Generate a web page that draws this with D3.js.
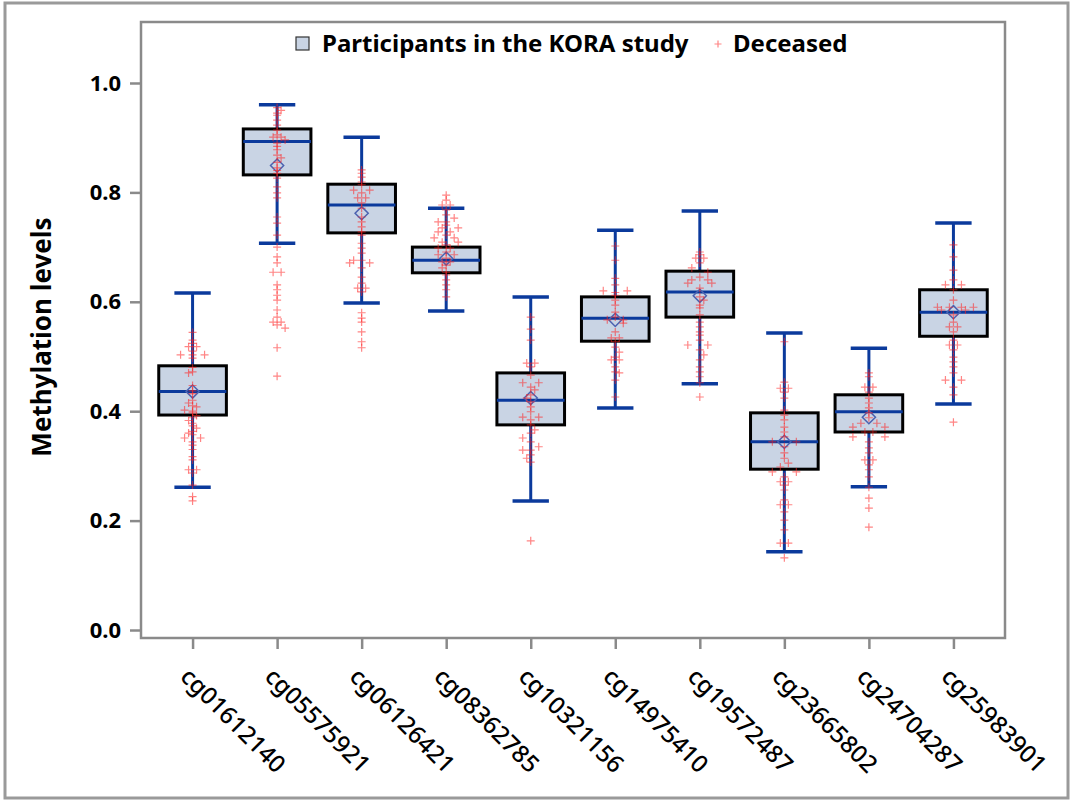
<!DOCTYPE html>
<html>
<head>
<meta charset="utf-8">
<script src="https://cdnjs.cloudflare.com/ajax/libs/d3/7.8.5/d3.min.js"></script>
<style>
  body { margin: 0; background: #fff; }
  svg text { font-family: "Noto Sans", "Open Sans", sans-serif; fill: #000; }
</style>
</head>
<body>
<svg id="chart" width="1073" height="803"></svg>
<script>
///////  Data ///////

var categories = ["cg01612140", "cg05575921", "cg06126421", "cg08362785", "cg10321156",
                  "cg14975410", "cg19572487", "cg23665802", "cg24704287", "cg25983901"];
var whiskerLow  = [0.261, 0.707, 0.598, 0.583, 0.236, 0.406, 0.450, 0.143, 0.262, 0.413];
var q1          = [0.393, 0.832, 0.726, 0.653, 0.375, 0.528, 0.572, 0.294, 0.362, 0.537];
var median      = [0.436, 0.893, 0.777, 0.676, 0.420, 0.570, 0.618, 0.344, 0.399, 0.581];
var q3          = [0.483, 0.916, 0.815, 0.700, 0.470, 0.609, 0.656, 0.397, 0.430, 0.622];
var whiskerHigh = [0.616, 0.960, 0.901, 0.771, 0.609, 0.731, 0.766, 0.543, 0.515, 0.744];
var means       = [0.436, 0.849, 0.762, 0.679, 0.424, 0.567, 0.611, 0.344, 0.389, 0.581];
var yTicks = [0, 0.2, 0.4, 0.6, 0.8, 1.0];

// deceased: [value, jitter step]
var deceased = [
  [[0.544,0],[0.530,0],[0.524,0],[0.518,-1],[0.518,1],[0.510,0],[0.503,-3],[0.503,0],[0.503,3],[0.497,0],[0.480,0],[0.472,0],[0.470,-1],[0.447,0],[0.437,0],[0.432,0],[0.420,0],[0.415,-1],[0.410,0],[0.408,1],[0.402,-2],[0.400,0],[0.397,0],[0.392,1],[0.388,0],[0.383,-1],[0.378,0],[0.373,0],[0.369,1],[0.363,0],[0.360,-1],[0.357,0],[0.351,-2],[0.351,2],[0.344,0],[0.338,0],[0.330,0],[0.317,0],[0.311,0],[0.293,-1],[0.293,1],[0.287,0],[0.265,0],[0.244,0],[0.236,0]],
  [[0.955,0],[0.950,1],[0.945,0],[0.941,0],[0.932,0],[0.923,0],[0.914,0],[0.905,0],[0.901,-1],[0.901,1],[0.896,2],[0.890,0],[0.884,0],[0.878,0],[0.868,0],[0.863,1],[0.855,0],[0.845,0],[0.840,0],[0.835,0],[0.826,0],[0.810,0],[0.799,0],[0.790,0],[0.755,0],[0.744,0],[0.722,0],[0.700,0],[0.682,0],[0.671,0],[0.654,-1],[0.654,1],[0.631,0],[0.622,0],[0.612,0],[0.603,0],[0.585,0],[0.572,0],[0.563,-1],[0.563,1],[0.558,0],[0.552,2],[0.516,0],[0.464,0]],
  [[0.841,0],[0.835,0],[0.828,0],[0.819,0],[0.814,0],[0.804,-2],[0.804,2],[0.799,0],[0.790,-1],[0.790,1],[0.781,0],[0.771,0],[0.755,0],[0.746,0],[0.737,0],[0.728,0],[0.722,0],[0.707,0],[0.698,0],[0.689,0],[0.676,-2],[0.676,0],[0.671,-3],[0.671,2],[0.662,0],[0.645,0],[0.634,0],[0.625,-1],[0.625,1],[0.618,0],[0.580,0],[0.570,0],[0.563,0],[0.545,0],[0.527,0],[0.516,0]],
  [[0.795,0],[0.786,0],[0.777,-1],[0.777,1],[0.768,0],[0.759,0],[0.753,2],[0.746,0],[0.746,-2],[0.740,0],[0.735,-1],[0.735,3],[0.728,-2],[0.728,1],[0.722,0],[0.717,-3],[0.717,2],[0.709,-1],[0.709,3],[0.704,0],[0.698,-2],[0.698,1],[0.691,0],[0.686,-2],[0.686,2],[0.680,0],[0.673,-1],[0.673,1],[0.667,0],[0.662,-1],[0.654,0],[0.649,0],[0.640,0],[0.631,0],[0.622,0],[0.609,0]],
  [[0.572,0],[0.550,0],[0.530,0],[0.488,-1],[0.488,1],[0.481,0],[0.466,0],[0.452,-2],[0.452,2],[0.444,0],[0.439,1],[0.430,0],[0.424,-1],[0.417,0],[0.408,0],[0.399,0],[0.389,-2],[0.389,2],[0.384,0],[0.375,0],[0.366,1],[0.360,0],[0.351,-2],[0.344,0],[0.335,2],[0.329,-2],[0.329,0],[0.320,0],[0.314,-1],[0.307,0],[0.163,0]],
  [[0.702,0],[0.676,0],[0.643,0],[0.631,0],[0.620,-3],[0.620,3],[0.617,0],[0.612,0],[0.603,0],[0.594,0],[0.581,0],[0.572,0],[0.567,-2],[0.567,2],[0.561,2],[0.545,0],[0.534,-1],[0.534,1],[0.527,0],[0.517,0],[0.508,1],[0.499,0],[0.494,-1],[0.494,1],[0.481,0],[0.472,0],[0.470,1],[0.457,0],[0.426,0]],
  [[0.691,0],[0.686,0],[0.680,-1],[0.680,1],[0.671,0],[0.662,-2],[0.654,2],[0.645,0],[0.640,-2],[0.640,2],[0.634,-3],[0.634,3],[0.625,0],[0.609,0],[0.603,1],[0.594,0],[0.589,0],[0.576,0],[0.563,0],[0.554,0],[0.545,0],[0.539,0],[0.530,0],[0.521,-3],[0.521,2],[0.512,0],[0.503,1],[0.494,0],[0.481,0],[0.472,0],[0.463,0],[0.452,0],[0.426,0]],
  [[0.527,0],[0.453,0],[0.442,-1],[0.442,1],[0.435,0],[0.424,0],[0.402,0],[0.393,0],[0.384,0],[0.371,0],[0.362,0],[0.353,0],[0.344,-3],[0.344,3],[0.335,0],[0.324,0],[0.314,0],[0.305,1],[0.298,-1],[0.289,-3],[0.289,3],[0.280,0],[0.271,-1],[0.271,1],[0.265,0],[0.256,0],[0.238,0],[0.229,-1],[0.229,1],[0.216,0],[0.201,0],[0.183,0],[0.159,-1],[0.159,1],[0.132,0]],
  [[0.470,0],[0.463,0],[0.444,-1],[0.444,1],[0.435,0],[0.424,0],[0.415,0],[0.406,0],[0.397,0],[0.388,0],[0.378,-2],[0.378,2],[0.371,-4],[0.371,4],[0.362,-1],[0.362,1],[0.353,-4],[0.353,4],[0.344,0],[0.333,0],[0.324,0],[0.311,-1],[0.311,1],[0.302,0],[0.293,0],[0.280,0],[0.261,0],[0.241,0],[0.223,0],[0.188,0]],
  [[0.704,0],[0.682,0],[0.658,0],[0.640,0],[0.631,-2],[0.631,2],[0.622,0],[0.603,0],[0.590,-4],[0.590,-1],[0.590,2],[0.590,5],[0.585,-3],[0.585,3],[0.576,0],[0.563,0],[0.554,-1],[0.554,1],[0.545,0],[0.530,0],[0.521,-1],[0.521,1],[0.512,0],[0.499,0],[0.490,0],[0.481,0],[0.470,0],[0.457,-2],[0.457,2],[0.444,0],[0.430,0],[0.380,0]]
];

///////  Layout ///////

var svg = d3.select("#chart");
var plotLeft = 141, plotRight = 1005, plotTop = 22, plotBottom = 638;
var blue = "#0b3a9c", gray = "#8a8a8a";
var font = "'Noto Sans', 'Open Sans', sans-serif";

// outer frame
svg.append("rect")
  .attr("x", 5).attr("y", 3).attr("width", 1063).attr("height", 795)
  .attr("fill", "none").attr("stroke", "#9a9a9a").attr("stroke-width", 3);

var x = d3.scalePoint().domain(categories).range([plotLeft, plotRight]).padding(0.61);
var y = d3.scaleLinear().domain([-0.0146, 1.1115]).range([plotBottom, plotTop]);
var step = x.step();
var boxW = step * 0.8, capW = step * 0.43, jit = 4;

// plot frame
svg.append("rect")
  .attr("x", plotLeft).attr("y", plotTop).attr("width", plotRight - plotLeft).attr("height", plotBottom - plotTop)
  .attr("fill", "none").attr("stroke", gray).attr("stroke-width", 2.5);

// axes
var yAxis = d3.axisLeft(y).tickValues(yTicks).tickFormat(d3.format(".1f")).tickSize(11).tickPadding(9);
var gy = svg.append("g").attr("transform", "translate(" + plotLeft + ",0)").call(yAxis);
gy.select(".domain").remove();
gy.selectAll("line").attr("stroke", gray).attr("stroke-width", 2.5);
gy.selectAll("text").attr("font-size", "22px").attr("font-weight", "bold")
  .style("font-family", font);

var xAxis = d3.axisBottom(x).tickSize(11);
var gx = svg.append("g").attr("transform", "translate(0," + plotBottom + ")").call(xAxis);
gx.select(".domain").remove();
gx.selectAll("line").attr("stroke", gray).attr("stroke-width", 2.5);
gx.selectAll("text")
  .attr("x", 0).attr("y", 0).attr("dy", 0)
  .attr("text-anchor", "start")
  .attr("transform", "translate(-14,40) rotate(45)")
  .attr("font-size", "24px")
  .attr("font-weight", 500)
  .style("font-family", font);

// y title
svg.append("text")
  .attr("transform", "translate(51,337) rotate(-90)")
  .attr("text-anchor", "middle")
  .attr("font-size", "26px").attr("font-weight", "bold")
  .text("Methylation levels");

///////  Boxes ///////

var g = svg.append("g");
categories.forEach(function(c, i) {
  var cx = x(c);
  // whisker
  g.append("line").attr("x1", cx).attr("x2", cx).attr("y1", y(whiskerLow[i])).attr("y2", y(whiskerHigh[i]))
    .attr("stroke", blue).attr("stroke-width", 3);
  [whiskerLow[i], whiskerHigh[i]].forEach(function(v) {
    g.append("line").attr("x1", cx - capW / 2).attr("x2", cx + capW / 2).attr("y1", y(v)).attr("y2", y(v))
      .attr("stroke", blue).attr("stroke-width", 3.5);
  });
  // box
  g.append("rect")
    .attr("x", cx - boxW / 2).attr("y", y(q3[i]))
    .attr("width", boxW).attr("height", y(q1[i]) - y(q3[i]))
    .attr("fill", "#c9d4e4").attr("stroke", "#000").attr("stroke-width", 3);
  g.append("line").attr("x1", cx - boxW / 2).attr("x2", cx + boxW / 2)
    .attr("y1", y(median[i])).attr("y2", y(median[i]))
    .attr("stroke", blue).attr("stroke-width", 3);
  g.append("path")
    .attr("d", d3.symbol().type(d3.symbolDiamond2).size(110)())
    .attr("transform", "translate(" + cx + "," + y(means[i]) + ")")
    .attr("fill", "none").attr("stroke", "#4c62b0").attr("stroke-width", 1.5);
});

///////  Deceased points ///////

var plus = "M-4,0H4M0,-4V4";
categories.forEach(function(c, i) {
  g.selectAll(null)
    .data(deceased[i])
    .enter().append("path")
    .attr("d", plus)
    .attr("transform", function(d) { return "translate(" + (x(c) + d[1] * jit) + "," + y(d[0]) + ")"; })
    .attr("stroke", "#ff2020").attr("stroke-opacity", 0.55).attr("stroke-width", 1.2)
    .attr("fill", "none");
});

///////  Legend ///////

var lg = svg.append("g");
lg.append("rect").attr("x", 296).attr("y", 37).attr("width", 13).attr("height", 13)
  .attr("fill", "#c9d4e4").attr("stroke", "#333").attr("stroke-width", 1.2);
lg.append("text").attr("x", 322).attr("y", 52).attr("font-size", "24px").attr("font-weight", "bold")
  .text("Participants in the KORA study");
lg.append("path").attr("d", "M-3.5,0H3.5M0,-3.5V3.5").attr("transform", "translate(718,44)")
  .attr("stroke", "#ff2020").attr("stroke-opacity", 0.55).attr("stroke-width", 1.2);
lg.append("text").attr("x", 733).attr("y", 52).attr("font-size", "24px").attr("font-weight", "bold")
  .text("Deceased");
</script>
</body>
</html>
